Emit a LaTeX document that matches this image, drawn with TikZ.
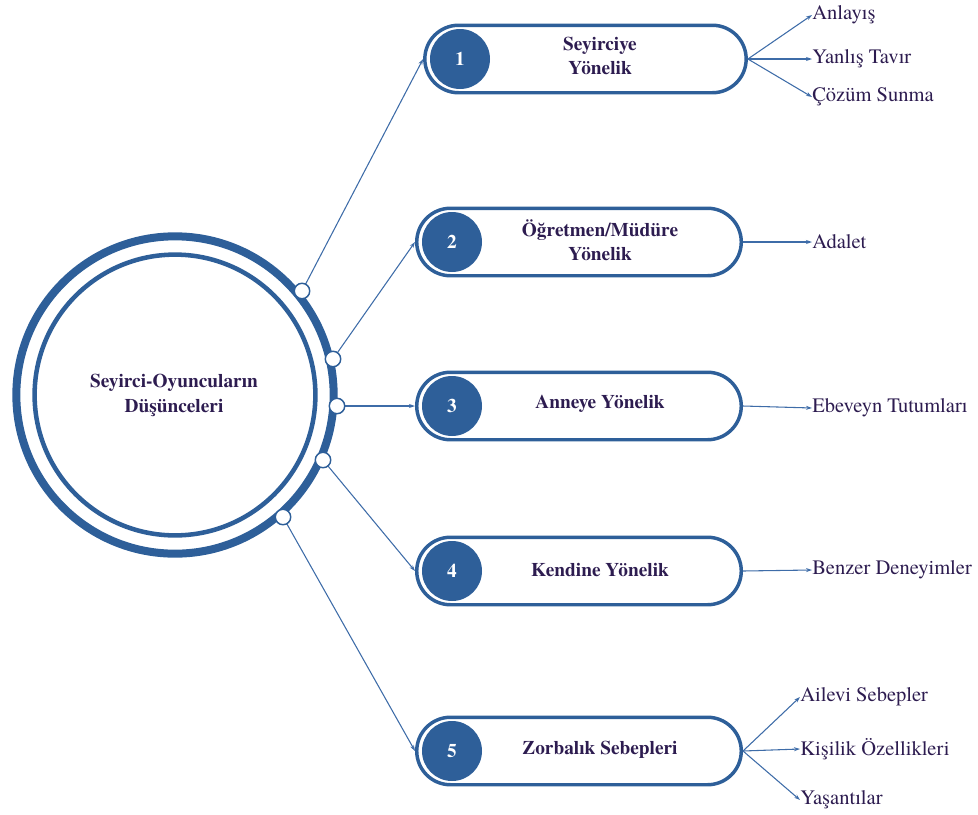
\documentclass[tikz,border=0pt]{standalone}
\usepackage{fontspec}
\IfFontExistsTF{TeX Gyre Termes}{\setmainfont{TeX Gyre Termes}}{}
\usetikzlibrary{arrows.meta,shapes.misc}
\definecolor{ringblue}{RGB}{46,95,153}
\definecolor{linkblue}{RGB}{62,108,168}
\definecolor{txt}{RGB}{45,28,80}
\begin{document}
\begin{tikzpicture}[x=0.75pt,y=-0.75pt,
  pill/.style={draw=ringblue, line width=2.6pt, rounded rectangle, minimum height=50.6pt, inner sep=0pt},
  num/.style={circle, fill=ringblue, minimum size=45pt, inner sep=0pt, text=white, font=\fontsize{14.5}{18}\selectfont\bfseries},
  ptext/.style={text=txt, align=center, inner sep=0pt, font=\fontsize{14.5}{18}\selectfont\bfseries},
  dot/.style={circle, draw=ringblue, line width=1.1pt, fill=white, minimum size=11.6pt, inner sep=0pt},
  lab/.style={anchor=west, inner sep=0pt, text=txt, font=\fontsize{15.4}{18}\selectfont},
  conn/.style={draw=linkblue, line width=0.8pt, -{Stealth[length=4.5pt,width=3pt]}}
]
\useasboundingbox (0,0) rectangle (978,814);

% central circle
\node[ptext, minimum size=10pt] (center) at (174,395) {Seyirci-Oyuncuların\\[0.8pt]Düşünceleri};
\draw[ringblue, line width=6pt] (175,395) circle[radius=119pt];
\draw[ringblue, line width=3.4pt] (175,395) circle[radius=105.3pt];

% pills
\node[pill, minimum width=241pt] (p1) at (585.5,59) {};
\node[pill, minimum width=243.4pt] (p2) at (579,242) {};
\node[pill, minimum width=243.4pt] (p3) at (579,406) {};
\node[pill, minimum width=243.4pt] (p4) at (579,571) {};
\node[pill, minimum width=243.4pt] (p5) at (579,751) {};

\node[num] (n1) at (460,59) {1};
\node[num] (n2) at (452,242) {2};
\node[num] (n3) at (452,406) {3};
\node[num] (n4) at (452,571) {4};
\node[num] (n5) at (452,751) {5};

\node[ptext] (t1) at (600,56) {Seyirciye\\Yönelik};
\node[ptext] (t2) at (600,240) {Öğretmen/Müdüre\\Yönelik};
\node[ptext] (t3) at (600,404) {Anneye Yönelik};
\node[ptext] (t4) at (600,570) {Kendine Yönelik};
\node[ptext] (t5) at (600,750) {Zorbalık Sebepleri};

% connectors from circle
\draw[conn] (302,291) -- (p1.west);
\draw[conn] (333,359) -- (p2.west);
\draw[conn] (337,406) -- (p3.west);
\draw[conn] (323,460) -- (p4.west);
\draw[conn] (283,517) -- (p5.west);

% dots on ring
\node[dot] (c1) at (302,291) {};
\node[dot] (c2) at (333,359) {};
\node[dot] (c3) at (337,406) {};
\node[dot] (c4) at (323,460) {};
\node[dot] (c5) at (283,517) {};

% right labels
\node[lab] (l11) at (812,15) {Anlayış};
\node[lab] (l12) at (812,59) {Yanlış Tavır};
\node[lab] (l13) at (812,97) {Çözüm Sunma};
\node[lab] (l2) at (812,242) {Adalet};
\node[lab] (l3) at (812,408) {Ebeveyn Tutumları};
\node[lab] (l4) at (812,570) {Benzer Deneyimler};
\node[lab] (l51) at (800,697) {Ailevi Sebepler};
\node[lab] (l52) at (800,749) {Kişilik Özellikleri};
\node[lab] (l53) at (800,800) {Yaşantılar};

\draw[conn] (p1.east) -- (l11.west);
\draw[conn] (p1.east) -- (l12.west);
\draw[conn] (p1.east) -- (l13.west);
\draw[conn] (p2.east) -- (l2.west);
\draw[conn] (p3.east) -- (l3.west);
\draw[conn] (p4.east) -- (l4.west);
\draw[conn] (p5.east) -- (l51.west);
\draw[conn] (p5.east) -- (l52.west);
\draw[conn] (p5.east) -- (l53.west);
\end{tikzpicture}
\end{document}
